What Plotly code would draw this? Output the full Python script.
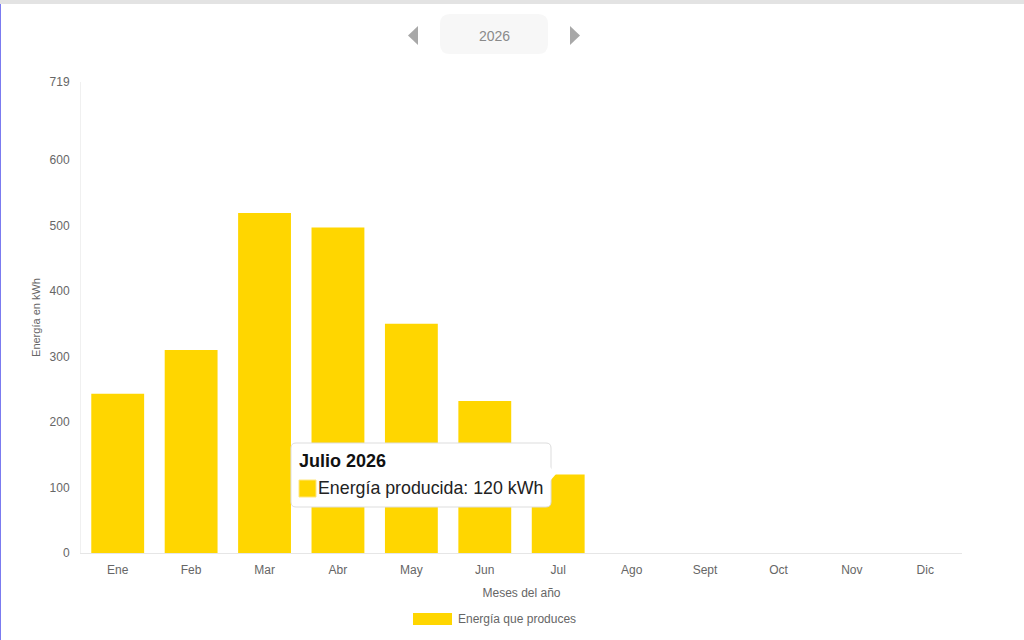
import plotly.graph_objects as go

# Monthly production (kWh) for 2026
months = ["Ene", "Feb", "Mar", "Abr", "May", "Jun", "Jul",
          "Ago", "Sept", "Oct", "Nov", "Dic"]
energy_kwh = [243, 310, 519, 497, 350, 232, 120, 0, 0, 0, 0, 0]
y_ticks = [0, 100, 200, 300, 400, 500, 600, 719]
year = "2026"
hover_month = "Julio"

BAR_COLOR = "#FFD600"
GREY = "#666666"

# plot area in screen pixels (used to place the page decorations)
W, H = 1024, 640
L, R, T, B = 81, 62, 82, 87
PW, PH = W - L - R, H - T - B


def px(x):
    return (x - L) / PW


def py(y):
    return (H - B - y) / PH


def rounded_rect(x0, y0, x1, y1, r):
    rx, ry = r / PW, r / PH
    a, b, c, d = px(x0), py(y1), px(x1), py(y0)
    return (f"M {a+rx},{b} L {c-rx},{b} Q {c},{b} {c},{b+ry} "
            f"L {c},{d-ry} Q {c},{d} {c-rx},{d} L {a+rx},{d} "
            f"Q {a},{d} {a},{d-ry} L {a},{b+ry} Q {a},{b} {a+rx},{b} Z")


def triangle(pts):
    p = [f"{px(x)},{py(y)}" for x, y in pts]
    return "M " + " L ".join(p) + " Z"


fig = go.Figure()
fig.add_trace(go.Bar(
    x=months,
    y=energy_kwh,
    marker=dict(color=BAR_COLOR, line=dict(width=0)),
    name="Energía que produces",
    showlegend=False,
))

shapes = [
    # browser chrome bits
    dict(type="rect", xref="paper", yref="paper", x0=px(0), x1=px(W), y0=py(4), y1=py(0),
         fillcolor="#e3e3e3", line=dict(width=0), layer="above"),
    dict(type="line", xref="paper", yref="paper", x0=px(0.5), x1=px(0.5), y0=py(640), y1=py(4),
         line=dict(color="#7b7bf0", width=1)),
    # year selector
    dict(type="path", xref="paper", yref="paper", path=rounded_rect(440, 14, 548, 54, 10),
         fillcolor="#f7f7f7", line=dict(width=0)),
    dict(type="path", xref="paper", yref="paper", path=triangle([(418, 26), (418, 45), (408, 35.5)]),
         fillcolor="#a8a8a8", line=dict(width=0)),
    dict(type="path", xref="paper", yref="paper", path=triangle([(570, 26), (570, 45), (580, 35.5)]),
         fillcolor="#a8a8a8", line=dict(width=0)),
    # tooltip box
    dict(type="path", xref="paper", yref="paper", path=rounded_rect(291, 443, 551, 507, 5),
         fillcolor="white", line=dict(color="#dddddd", width=1), layer="above"),
    dict(type="path", xref="paper", yref="paper", path=triangle([(550, 467), (556, 474), (550, 481)]),
         fillcolor="white", line=dict(width=0), layer="above"),
    dict(type="rect", xref="paper", yref="paper", x0=px(299), x1=px(316), y0=py(497), y1=py(480),
         fillcolor=BAR_COLOR, line=dict(color="#ffe680", width=1), layer="above"),
    # legend swatch
    dict(type="rect", xref="paper", yref="paper", x0=px(413), x1=px(452), y0=py(625), y1=py(613),
         fillcolor=BAR_COLOR, line=dict(width=0)),
]

annotations = [
    dict(text=year, xref="paper", yref="paper", x=px(494), y=py(36), showarrow=False,
         xanchor="center", yanchor="middle", font=dict(size=14, color="#8a8a8a")),
    dict(text=f"<b>{hover_month} {year}</b>", xref="paper", yref="paper", x=px(297), y=py(461),
         xanchor="left", yanchor="middle", showarrow=False,
         font=dict(size=18, color="#111111")),
    dict(text=f"Energía producida: {energy_kwh[6]} kWh", xref="paper", yref="paper",
         x=px(316), y=py(488), xanchor="left", yanchor="middle", showarrow=False,
         font=dict(size=17.8, color="#222222")),
    dict(text="Energía que produces", xref="paper", yref="paper", x=px(456), y=py(619),
         xanchor="left", yanchor="middle", showarrow=False, font=dict(size=12, color=GREY)),
]

fig.update_layout(
    width=W,
    height=H,
    margin=dict(l=L, r=R, t=T, b=B),
    paper_bgcolor="white",
    plot_bgcolor="white",
    font=dict(family="Liberation Sans, Arial, sans-serif", size=12, color=GREY),
    bargap=0.28,
    showlegend=False,
    shapes=shapes,
    annotations=annotations,
    xaxis=dict(
        title=dict(text="Meses del año", font=dict(size=12, color=GREY), standoff=12),
        showline=True, linecolor="#e6e6e6", linewidth=1,
        showgrid=False, ticks="outside", ticklen=6, tickcolor="rgba(0,0,0,0)",
        tickfont=dict(size=12, color=GREY),
    ),
    yaxis=dict(
        title=dict(text="Energía en kWh", font=dict(size=11, color=GREY), standoff=6),
        range=[0, 719],
        tickvals=y_ticks,
        ticktext=[str(v) for v in y_ticks],
        showline=True, linecolor="#f0f0f0", linewidth=1,
        showgrid=False, zeroline=False,
        ticks="outside", ticklen=8, tickcolor="rgba(0,0,0,0)",
        tickfont=dict(size=12, color=GREY),
    ),
)

# drop the default page margin so the figure sits at the window's corner
fig.write_html("out.html", config={"displayModeBar": False},
               post_script="document.body.style.margin='0';")
